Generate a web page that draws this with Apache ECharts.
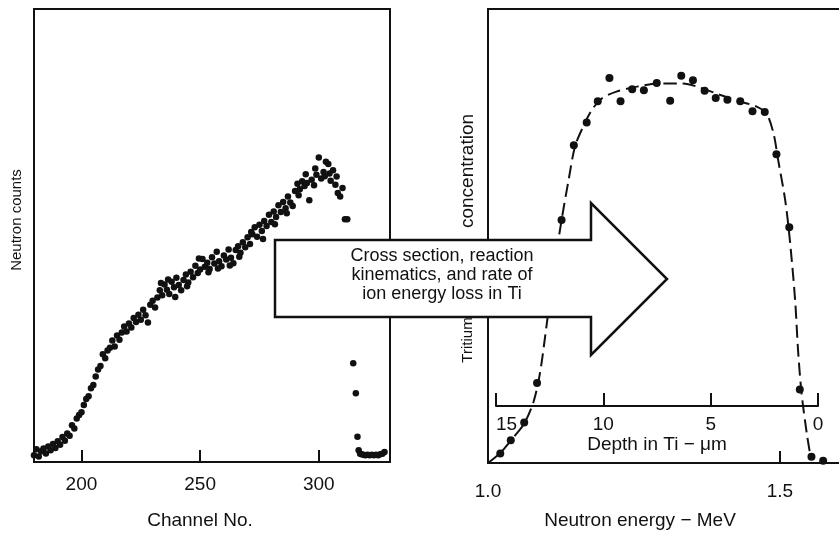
<!DOCTYPE html>
<html>
<head>
<meta charset="utf-8">
<script src="https://cdn.jsdelivr.net/npm/echarts@6/dist/echarts.min.js"></script>
<style>
  html, body { margin: 0; padding: 0; background: #fff; }
  #chart { width: 839px; height: 533px; }
</style>
</head>
<body>
<div id="chart"></div>
<script>
// Neutron spectrum: channel number and counts (arbitrary units)
const channels = [
  180,181,182,183,184,185,186,187,188,189,
  190,191,192,193,194,195,196,197,198,199,
  200,201,202,203,204,205,206,207,208,209,
  210,211,212,213,214,215,216,217,218,219,
  220,221,222,223,224,225,226,227,228,229,
  230,231,232,233,234,235,236,237,238,239,
  240,241,242,243,244,245,246,247,248,249,
  250,251,252,253,254,255,256,257,258,259,
  260,261,262,263,264,265,266,267,268,269,
  270,271,272,273,274,275,276,277,278,279,
  280,281,282,283,284,285,286,287,288,289,
  290,291,292,293,294,295,296,297,298,299,
  300,301,302,303,304,305,306,307,308,309,
  310,311,312,
  233.5,236.5,239.5,244.5,249.5,253.5,257.5,262.5,266.5,271.5,
  276.5,281.5,286.5,291.5,294.5,298.5,302.5,304.5,307.5,
  314.5,315.6,316.3,316.8,317.4,318.0,318.8,319.6,320.5,321.4,
  322.3,323.2,324.1,325.0,325.9,326.8,327.7
];
const neutronCounts = [
  1.5,2.8,1.2,2.4,3.0,1.9,3.4,2.6,4.0,3.1,
  4.6,3.8,5.5,4.7,6.3,5.8,8.1,7.4,9.6,10.4,
  11.0,12.6,13.9,14.5,16.3,17.0,18.9,20.4,21.2,23.8,
  22.9,24.6,25.2,26.8,25.5,27.9,27.0,28.6,29.9,28.8,
  30.6,29.7,31.8,30.9,32.5,31.4,33.6,32.4,30.8,34.7,
  35.6,34.1,36.3,37.9,36.8,39.2,38.0,37.1,39.8,38.6,
  40.7,39.1,37.9,40.2,41.4,39.6,42.0,40.8,43.3,41.7,
  42.5,44.8,43.1,44.0,42.6,45.2,43.8,46.4,44.3,43.2,
  45.6,44.7,46.9,45.1,43.9,46.8,47.6,46.2,48.5,47.4,
  49.6,48.1,50.3,51.8,49.7,52.4,51.0,53.2,52.1,54.6,
  53.0,55.3,54.1,56.7,55.2,57.4,56.0,58.6,57.3,56.5,
  59.8,61.4,60.2,62.0,60.9,61.6,57.8,62.3,61.1,63.4,
  67.2,62.6,64.0,66.3,65.8,62.1,64.4,61.2,59.4,58.6,
  60.5,53.6,53.6,
  39.5,40.3,36.4,38.8,44.9,41.9,42.7,43.4,45.3,50.8,
  49.2,52.5,54.9,58.9,63.5,64.8,63.1,63.7,63.0,
  21.8,15.2,5.6,2.6,1.8,1.7,1.6,1.5,1.6,1.5,
  1.6,1.5,1.6,1.5,1.7,1.8,2.2
];

// Tritium concentration profile (measured points)
const neutronEnergy = [
  1.021,1.039,1.062,1.084,1.126,1.147,1.169,1.188,1.208,1.227,
  1.247,1.267,1.289,1.312,1.331,1.351,1.371,1.390,1.410,1.432,
  1.453,1.474,1.494,1.516,1.534,1.554,1.574
];
const tritiumConc = [
  2.1,5.0,8.9,17.6,53.5,70.0,75.0,79.7,84.8,79.7,
  82.3,82.1,83.7,79.8,85.3,84.3,82.0,80.4,80.0,79.7,
  77.5,77.3,68.0,51.9,16.2,1.4,0.5
];

// Fitted profile through the points
const fitEnergy = [
  1.000,1.020,1.040,1.062,1.078,1.089,1.100,1.112,1.126,1.138,
  1.149,1.163,1.178,1.195,1.220,1.255,1.295,1.334,1.363,1.397,
  1.432,1.460,1.477,1.489,1.497,1.509,1.517,1.526,1.531,1.537,
  1.546,1.553
];
const fitConc = [
  0.0,2.1,5.1,8.7,13.5,19.8,30.0,41.8,53.5,62.3,
  69.7,74.1,77.8,80.3,81.8,82.9,83.6,83.6,82.7,81.1,
  79.6,78.5,77.0,72.6,66.7,57.9,49.1,35.9,24.9,15.4,
  6.5,1.0
];

// Axis ticks
const channelTicks = [200, 250, 300];
const energyTicks = [1.0, 1.5];
const depthTicks = [0, 5, 10, 15];

const arrowText = ['Cross section, reaction', 'kinematics, and rate of', 'ion energy loss in Ti'];

const FONT = '"Liberation Sans", Arial, Helvetica, sans-serif';
const INK = '#111';

const chart = echarts.init(document.getElementById('chart'), null, { renderer: 'canvas' });

const spectrumPoints = channels.map((c, i) => [c, neutronCounts[i]]);
const profilePoints = neutronEnergy.map((e, i) => [e, tritiumConc[i]]);
const fitPoints = fitEnergy.map((e, i) => [e, fitConc[i]]);

const frameAxisLine = { show: true, lineStyle: { color: INK, width: 2 } };
const tickFont = { fontSize: 19, color: INK, fontFamily: FONT };

function label(text, x, y, size, rotated) {
  return {
    type: 'text', z: 10, x: x, y: y, rotation: rotated ? Math.PI / 2 : 0,
    style: { text: text, font: size + 'px ' + FONT, fill: INK, align: 'center', verticalAlign: 'middle' }
  };
}

chart.setOption({
  animation: false,
  backgroundColor: '#fff',
  textStyle: { fontFamily: FONT, color: INK },
  grid: [
    { left: 34, top: 9, right: 449, bottom: 71, show: true, borderColor: INK, borderWidth: 2,
      backgroundColor: 'transparent', outerBoundsMode: 'none' },
    { left: 488, top: 9, right: -11, bottom: 70, show: true, borderColor: INK, borderWidth: 2,
      backgroundColor: 'transparent', outerBoundsMode: 'none' },
    { left: 496, top: 300, right: 21, bottom: 127, show: false, outerBoundsMode: 'none' }
  ],
  xAxis: [
    {
      gridIndex: 0, type: 'value', min: 180, max: 330,
      axisLine: frameAxisLine,
      axisTick: { show: true, inside: true, length: 12, customValues: channelTicks, lineStyle: { color: INK, width: 2 } },
      axisLabel: Object.assign({ customValues: channelTicks, margin: 13 }, tickFont),
      splitLine: { show: false }
    },
    {
      gridIndex: 1, type: 'value', min: 1.0, max: 1.62,
      axisLine: frameAxisLine,
      axisTick: { show: true, inside: true, length: 12, customValues: energyTicks, lineStyle: { color: INK, width: 2 } },
      axisLabel: Object.assign({ customValues: energyTicks, margin: 19, formatter: v => v.toFixed(1) }, tickFont),
      splitLine: { show: false }
    },
    {
      gridIndex: 2, type: 'value', min: 0, max: 15, inverse: true,
      axisLine: { show: true, lineStyle: { color: INK, width: 2 } },
      axisTick: { show: true, inside: true, length: 13, customValues: depthTicks, lineStyle: { color: INK, width: 2 } },
      axisLabel: Object.assign({ customValues: depthTicks, margin: 9, alignMaxLabel: 'left' }, tickFont),
      splitLine: { show: false },
      name: 'Depth in Ti \u2212 \u03bcm', nameLocation: 'middle', nameGap: 28,
      nameTextStyle: { fontSize: 19, color: INK, fontFamily: FONT }
    }
  ],
  yAxis: [
    { gridIndex: 0, type: 'value', min: 0, max: 100, axisLine: frameAxisLine, axisTick: { show: false }, axisLabel: { show: false }, splitLine: { show: false } },
    { gridIndex: 1, type: 'value', min: 0, max: 100, axisLine: frameAxisLine, axisTick: { show: false }, axisLabel: { show: false }, splitLine: { show: false } },
    { gridIndex: 2, type: 'value', min: 0, max: 1, show: false }
  ],
  series: [
    {
      name: 'Neutron counts', type: 'scatter', xAxisIndex: 0, yAxisIndex: 0,
      data: spectrumPoints, symbol: 'circle', symbolSize: 6.5,
      itemStyle: { color: INK, opacity: 1 }, z: 3
    },
    {
      name: 'Fit', type: 'line', xAxisIndex: 1, yAxisIndex: 1,
      data: fitPoints, smooth: 0.3, symbol: 'none',
      lineStyle: { color: INK, width: 2, type: [13, 6] }, z: 2
    },
    {
      name: 'Tritium concentration', type: 'scatter', xAxisIndex: 1, yAxisIndex: 1,
      data: profilePoints, symbol: 'circle', symbolSize: 8,
      itemStyle: { color: INK, opacity: 1 }, z: 3
    }
  ],
  graphic: [
    label('Neutron counts', 17, 220, 15, true),
    label('Channel No.', 200, 521, 19, false),
    label('Neutron energy \u2212 MeV', 640, 521, 19, false),
    label('concentration', 468, 171, 19, true),
    label('Tritium', 468, 340, 15, true),
    {
      type: 'polygon', z: 20,
      shape: { points: [[275, 240], [591, 240], [591, 203], [667, 279], [591, 355], [591, 317], [275, 317]] },
      style: { fill: '#fff', stroke: INK, lineWidth: 2.5 }
    },
    {
      type: 'text', z: 21, x: 442, y: 275,
      style: { text: arrowText.join('\n'), font: '18px ' + FONT, fill: INK, align: 'center', verticalAlign: 'middle', lineHeight: 19 }
    }
  ]
});
</script>
</body>
</html>
